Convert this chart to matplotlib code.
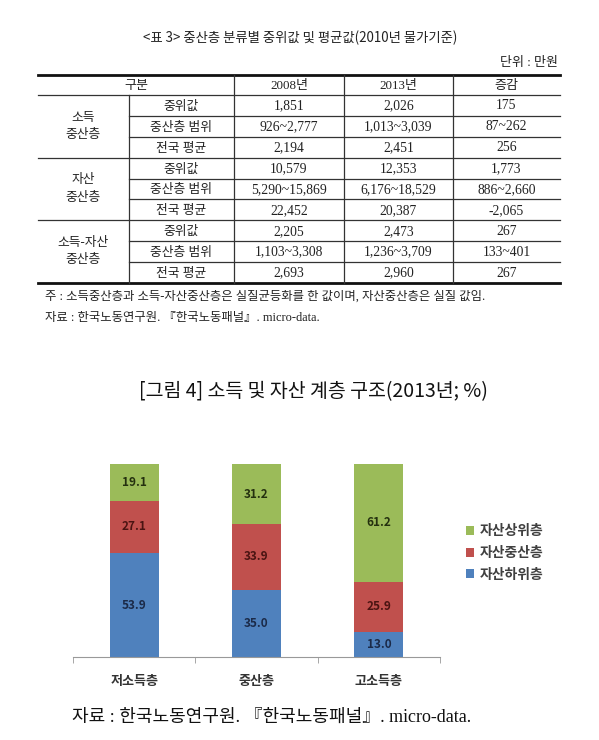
import matplotlib
matplotlib.use('Agg')
import matplotlib.pyplot as plt
import numpy as np

W, H = 599, 740
KR = ['Noto Sans CJK KR', 'DejaVu Sans']
SERIF = ['Liberation Serif', 'Noto Sans CJK KR', 'DejaVu Sans']
plt.rcParams['font.family'] = KR

# ---- table data ----
table_title = '<표 3> 중산층 분류별 중위값 및 평균값(2010년 물가기준)'
unit_note = '단위 : 만원'
col_headers = ['구분', '2008년', '2013년', '증감']
groups = ['소득\n중산층', '자산\n중산층', '소득-자산\n중산층']
row_labels = ['중위값', '중산층 범위', '전국 평균']
v2008 = ['1,851', '926~2,777', '2,194',
         '10,579', '5,290~15,869', '22,452',
         '2,205', '1,103~3,308', '2,693']
v2013 = ['2,026', '1,013~3,039', '2,451',
         '12,353', '6,176~18,529', '20,387',
         '2,473', '1,236~3,709', '2,960']
vdiff = ['175', '87~262', '256',
         '1,773', '886~2,660', '-2,065',
         '267', '133~401', '267']
note1 = '주 : 소득중산층과 소득-자산중산층은 실질균등화를 한 값이며, 자산중산층은 실질 값임.'
note2 = '자료 : 한국노동연구원. 『한국노동패널』. micro-data.'

# ---- chart data ----
chart_title = '[그림 4] 소득 및 자산 계층 구조(2013년; %)'
categories = ['저소득층', '중산층', '고소득층']
series_names = ['자산하위층', '자산중산층', '자산상위층']
low_asset = [53.9, 35.0, 13.0]
mid_asset = [27.1, 33.9, 25.9]
high_asset = [19.1, 31.2, 61.2]
source = '자료 : 한국노동연구원. 『한국노동패널』. micro-data.'

fig = plt.figure(figsize=(W / 100, H / 100), dpi=100)
fig.patch.set_facecolor('white')

# pixel-space canvas for the table and free text
bg = fig.add_axes([0, 0, 1, 1])
bg.set_xlim(0, W); bg.set_ylim(H, 0); bg.axis('off')

tc = '#222222'
bg.text(300, 38, table_title, ha='center', va='center', fontsize=9.6, color=tc)
bg.text(558, 63, unit_note, ha='right', va='center', fontsize=9.4, color=tc, family=SERIF)

x_left, x_inner, x_c1, x_c2, x_c3, x_right = 38, 129, 234, 344, 453, 560
y_top, y_head = 75, 95
row_h = (283 - y_head) / 9
row_y = [y_head + i * row_h for i in range(10)]

# thick top/bottom rules
bg.plot([x_left, x_right], [y_top, y_top], color='#111', lw=2.0)
bg.plot([x_left, x_right], [row_y[-1], row_y[-1]], color='#111', lw=2.0)
bg.plot([x_left, x_right], [y_head, y_head], color='#333', lw=0.9)
for i in range(1, 9):
    x0 = x_left if i % 3 == 0 else x_inner
    bg.plot([x0, x_right], [row_y[i], row_y[i]], color='#333', lw=0.9)
for xv in [x_c1, x_c2, x_c3]:
    bg.plot([xv, xv], [y_top, row_y[-1]], color='#333', lw=0.9)
bg.plot([x_inner, x_inner], [y_head, row_y[-1]], color='#333', lw=0.9)

# header
hx = [(x_left + x_c1) / 2, (x_c1 + x_c2) / 2, (x_c2 + x_c3) / 2, (x_c3 + x_right) / 2]
for x, t in zip(hx, col_headers):
    bg.text(x, (y_top + y_head) / 2 + 1, t, ha='center', va='center', fontsize=9.4, color=tc, family=SERIF)

for g, lab in enumerate(groups):
    yc = (row_y[3 * g] + row_y[3 * g + 3]) / 2
    bg.text((x_left + x_inner) / 2, yc, lab, ha='center', va='center', fontsize=9.2,
            color=tc, linespacing=1.6, family=SERIF)
    for r in range(3):
        i = 3 * g + r
        yc = (row_y[i] + row_y[i + 1]) / 2 + 0.5
        bg.text((x_inner + x_c1) / 2, yc + 1, row_labels[r], ha='center', va='center',
                fontsize=9.2, color=tc, family=SERIF)
        for x, vals in zip(hx[1:], [v2008, v2013, vdiff]):
            bg.text(x, yc, vals[i], ha='center', va='center', fontsize=9.8, color=tc, family=SERIF)

bg.text(45, 297, note1, ha='left', va='center', fontsize=8.9, color=tc, family=SERIF)
bg.text(45, 318, note2, ha='left', va='center', fontsize=8.9, color=tc, family=SERIF)

bg.text(313, 392, chart_title, ha='center', va='center', fontsize=14, color='#111')
bg.text(72, 717, source, ha='left', va='center', fontsize=13, color='#111', family=SERIF)

# ---- stacked bar chart ----
ax = fig.add_axes([73 / W, 1 - 657 / H, 367 / W, 193 / H])
x = np.arange(len(categories))
colors = ['#4F81BD', '#C0504D', '#9BBB59']
label_colors = ['#1b2a48', '#4a1412', '#24300f']
bottom = np.zeros(len(categories))
conts = []
for vals, name, c, lc in zip([low_asset, mid_asset, high_asset], series_names, colors, label_colors):
    cont = ax.bar(x, vals, width=0.4, bottom=bottom, color=c, label=name)
    ax.bar_label(cont, labels=[f'{v:.1f}' for v in vals], label_type='center',
                 color=lc, fontsize=8.5, fontweight='bold')
    bottom += np.array(vals)
    conts.append(cont)

ax.set_xlim(-0.5, 2.5)
ax.set_ylim(0, 100.1)
ax.set_xticks(x)
ax.set_xticklabels(categories, fontsize=9.4, fontweight='bold', color='#333')
ax.set_xticks([-0.5, 0.5, 1.5, 2.5], minor=True)
ax.tick_params(axis='x', which='major', length=0, pad=12)
ax.tick_params(axis='x', which='minor', length=4, color='#999', direction='out')
ax.set_yticks([])
for s in ['top', 'right', 'left']:
    ax.spines[s].set_visible(False)
ax.spines['bottom'].set_color('#999')
ax.set_facecolor('none')

handles = conts[::-1]
leg = ax.legend(handles, series_names[::-1], loc='center left',
                bbox_to_anchor=(459 / W, 1 - 553 / H), bbox_transform=fig.transFigure,
                frameon=False, handlelength=0.6, handleheight=0.6, handletextpad=0.4,
                labelspacing=0.55, borderpad=0,
                prop={'family': KR, 'size': 10, 'weight': 'bold'})
for t in leg.get_texts():
    t.set_color('#404040')

fig.savefig('out.png', dpi=100, facecolor='white')
